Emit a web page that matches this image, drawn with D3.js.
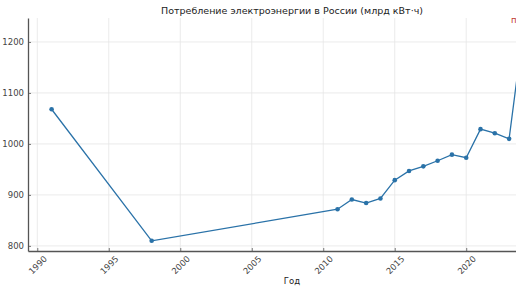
<!DOCTYPE html>
<html>
<head>
<meta charset="utf-8">
<script src="https://cdn.jsdelivr.net/npm/d3@7"></script>
<style>
  body { margin: 0; overflow: hidden; background: #fff; }
  text { font-family: "DejaVu Sans", sans-serif; }
</style>
</head>
<body>
<div id="chart"></div>
<script>
// data
const years = [1991, 1998, 2011, 2012, 2013, 2014, 2015, 2016, 2017, 2018, 2019, 2020, 2021, 2022, 2023, 2024];
const values = [1068, 810, 872, 891, 884, 893, 929, 947, 956, 967, 979, 973, 1029, 1021, 1010, 1226];
const xTicks = [1990, 1995, 2000, 2005, 2010, 2015, 2020];
const yTicks = [800, 900, 1000, 1100, 1200];

const data = years.map((y, i) => ({year: y, value: values[i]}));

const W = 516, H = 290;
// plot area runs past the right edge of the picture (it was cropped)
const margin = {top: 18, left: 28, bottom: 39};
const plotRight = 547;

const svg = d3.select("#chart").append("svg")
    .attr("width", W)
    .attr("height", H);

// matplotlib-like 5% padding on both axes
const x = d3.scaleLinear()
    .domain([1989.35, 2025.65])
    .range([margin.left, plotRight]);

const y = d3.scaleLinear()
    .domain([790, 1247])
    .range([H - margin.bottom, margin.top]);

// grid
svg.append("g")
  .selectAll("line")
  .data(xTicks)
  .enter().append("line")
    .attr("x1", d => x(d)).attr("x2", d => x(d))
    .attr("y1", margin.top).attr("y2", H - margin.bottom)
    .attr("stroke", "#e6e6e6").attr("stroke-width", 0.8);

svg.append("g")
  .selectAll("line")
  .data(yTicks)
  .enter().append("line")
    .attr("x1", margin.left).attr("x2", plotRight)
    .attr("y1", d => y(d)).attr("y2", d => y(d))
    .attr("stroke", "#e6e6e6").attr("stroke-width", 0.8);

// axes with inward ticks
const yAxis = svg.append("g")
    .attr("transform", `translate(${margin.left},0)`)
    .call(d3.axisLeft(y).tickValues(yTicks).tickSizeInner(-3).tickSizeOuter(0)
      .tickPadding(4).tickFormat(d3.format("d")));

const xAxis = svg.append("g")
    .attr("transform", `translate(0,${H - margin.bottom})`)
    .call(d3.axisBottom(x).tickValues(xTicks).tickSizeInner(-3).tickSizeOuter(0).tickFormat(d3.format("d")));

[yAxis, xAxis].forEach(a => {
  a.select(".domain").attr("stroke", "#555").attr("stroke-width", 1.3);
  a.selectAll(".tick line").attr("stroke", "#555").attr("stroke-width", 0.8);
  a.selectAll("text").attr("fill", "#444").style("font-size", "8.5px");
});

// rotated year labels, centred under each tick
xAxis.selectAll(".tick text")
    .attr("y", 0).attr("dy", "0.35em")
    .attr("text-anchor", "middle")
    .attr("transform", "translate(0,14) rotate(-45)");

// line + markers
const line = d3.line()
    .x(d => x(d.year))
    .y(d => y(d.value));

svg.append("path")
    .datum(data)
    .attr("fill", "none")
    .attr("stroke", "#2a72a8")
    .attr("stroke-width", 1.3)
    .attr("d", line);

svg.append("g")
  .selectAll("circle")
  .data(data)
  .enter().append("circle")
    .attr("cx", d => x(d.year))
    .attr("cy", d => y(d.value))
    .attr("r", 2.3)
    .attr("fill", "#2a72a8");

// title and labels
svg.append("text")
    .attr("x", 292).attr("y", 14)
    .attr("text-anchor", "middle")
    .attr("fill", "#222")
    .style("font-size", "9.5px")
    .text("Потребление электроэнергии в России (млрд кВт·ч)");

svg.append("text")
    .attr("x", 292).attr("y", 284)
    .attr("text-anchor", "middle")
    .attr("fill", "#222")
    .style("font-size", "8.5px")
    .text("Год");

// y label sits mostly outside the left edge, as in the cropped original
svg.append("text")
    .attr("transform", `translate(-3,${(margin.top + H - margin.bottom) / 2}) rotate(-90)`)
    .attr("text-anchor", "middle")
    .attr("fill", "#222")
    .style("font-size", "8.5px")
    .text("Потребление (млрд кВт·ч)");

// red note by the last point (cut off at the edge)
svg.append("text")
    .attr("x", 511).attr("y", 23)
    .attr("fill", "#c0392b")
    .style("font-size", "8.5px")
    .text("прогноз");
</script>
</body>
</html>
